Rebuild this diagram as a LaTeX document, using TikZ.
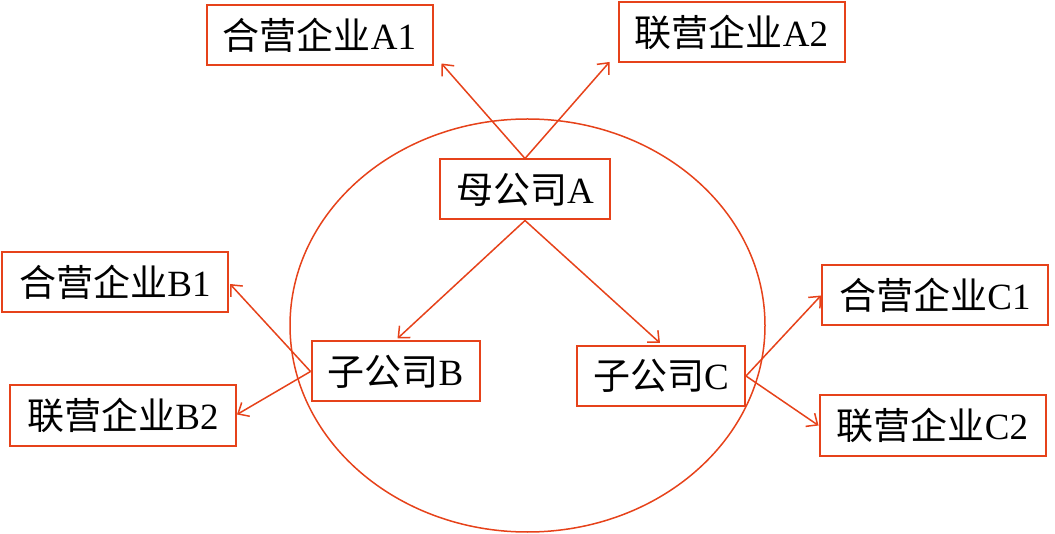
\documentclass[tikz,border=0pt]{standalone}
\usepackage{fontspec}
\setmainfont{Liberation Serif}
\newfontfamily\cjk{Noto Sans CJK SC}
\usetikzlibrary{arrows.meta}
\definecolor{rl}{RGB}{230,66,26}
\begin{document}
\begin{tikzpicture}[x=1pt,y=-1pt,
  box/.style={draw=rl,line width=2pt,inner sep=0pt,minimum height=60pt,font=\fontsize{37}{42}\selectfont},
  wbox/.style={box,minimum width=226pt},
  nbox/.style={box,minimum width=168pt},
  link/.style={draw=rl,line width=1.5pt,-{Straight Barb[length=9pt,width=16pt,line width=1.5pt]}}]
\useasboundingbox (0,0) rectangle (1055,534);
\draw[rl,line width=1.5pt] (527.5,325.5) ellipse[x radius=237.5,y radius=206.5];
\node[wbox] (a1) at (319.5,35.5) {{\cjk 合营企业}A1};
\node[wbox] (a2) at (731.5,32) {{\cjk 联营企业}A2};
\node[nbox,minimum width=170pt] (pa) at (525,189.5) {{\cjk 母公司}A};
\node[wbox] (b1) at (115,282) {{\cjk 合营企业}B1};
\node[wbox] (b2) at (123,415.5) {{\cjk 联营企业}B2};
\node[nbox] (pb) at (395.5,371.5) {{\cjk 子公司}B};
\node[nbox] (pc) at (661,376) {{\cjk 子公司}C};
\node[wbox] (c1) at (935,295.5) {{\cjk 合营企业}C1};
\node[wbox] (c2) at (932.5,425.5) {{\cjk 联营企业}C2};
\draw[link] (pa.north) -- ([shift={(8,-3)}]a1.south east);
\draw[link] (pa.north) -- ([shift={(-8,-1)}]a2.south west);
\draw[link] (pa.south) -- ([shift={(2,-2)}]pb.north);
\draw[link] (pa.south) -- ([shift={(-1,-2)}]pc.north);
\draw[link] (pb.west) -- ([shift={(1,2)}]b1.east);
\draw[link] (pb.west) -- ([shift={(0,-1)}]b2.east);
\draw[link] (pc.east) -- (c1.west);
\draw[link] (pc.east) -- (c2.west);
\end{tikzpicture}
\end{document}
